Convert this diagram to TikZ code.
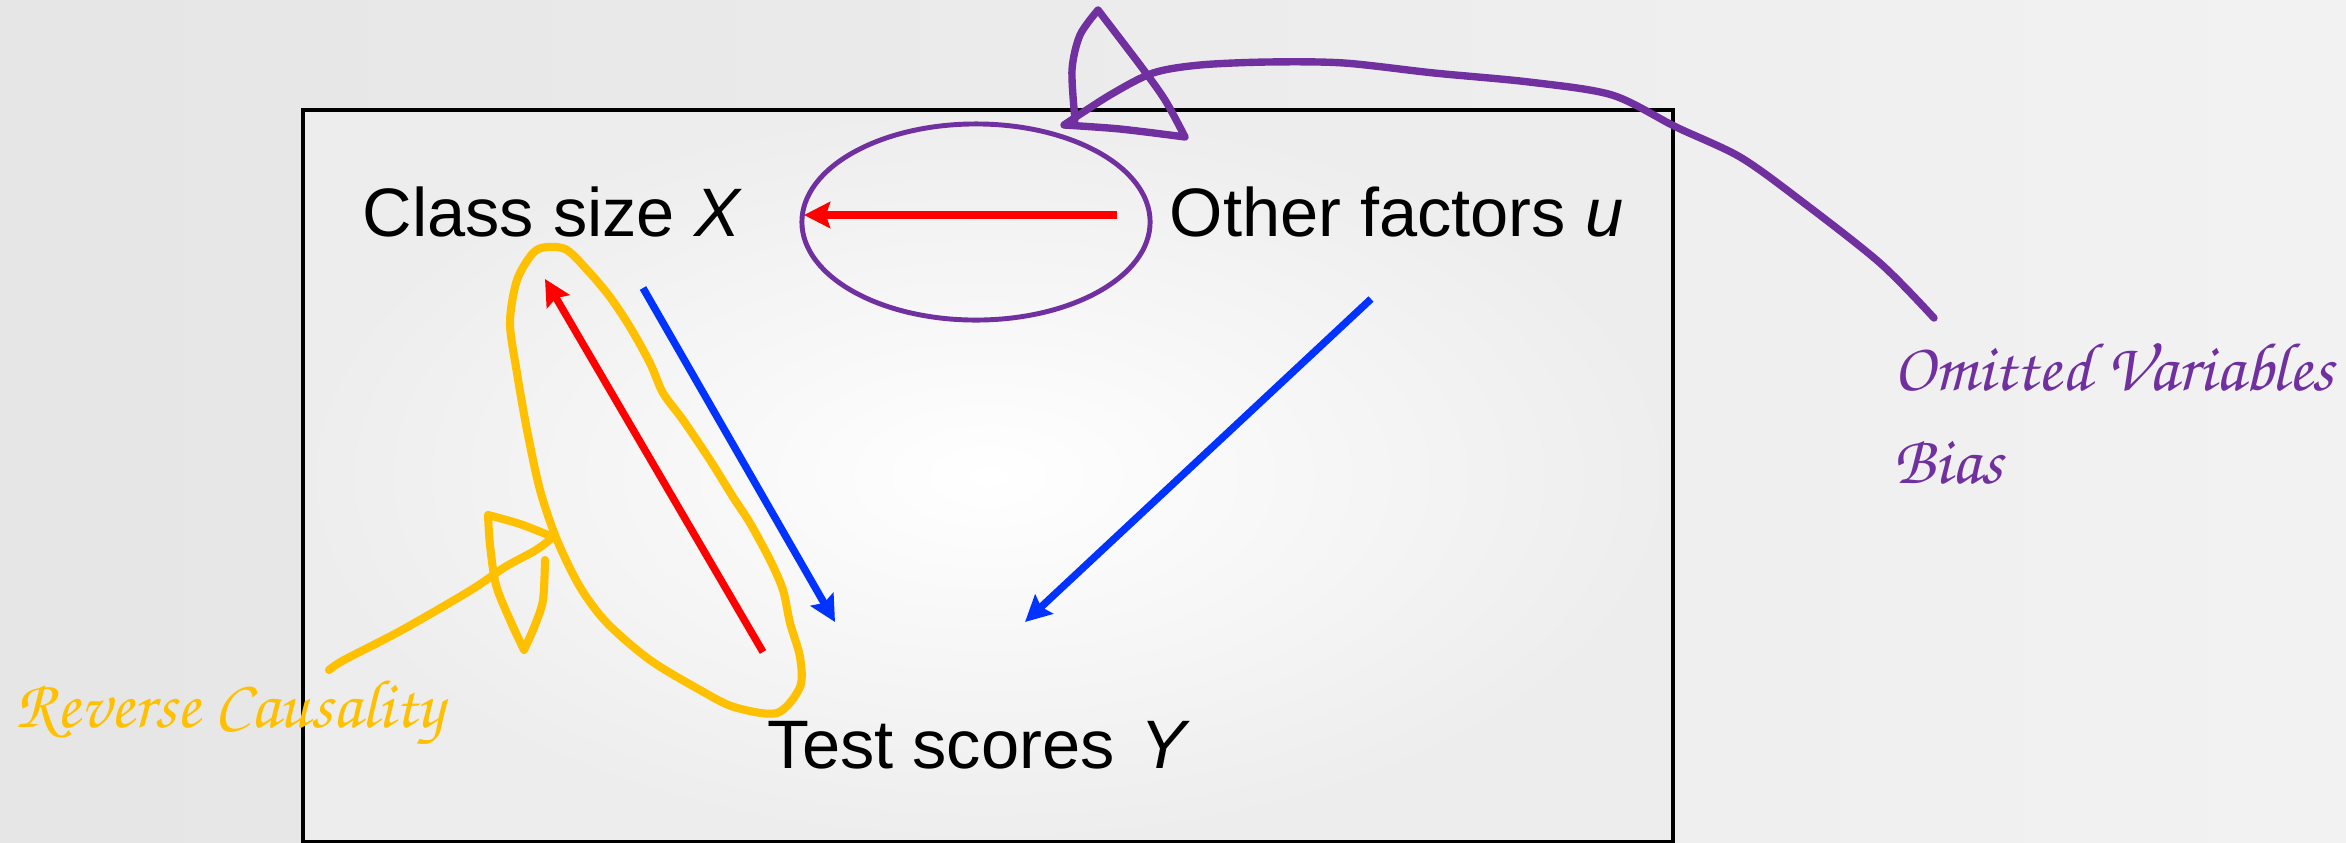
\documentclass[tikz,border=0pt]{standalone}
\usepackage{fontspec}
\setmainfont{Liberation Sans}
\usetikzlibrary{arrows.meta}
\definecolor{causered}{HTML}{FF0000}
\definecolor{causeblue}{HTML}{0033FF}
\definecolor{inkpurple}{HTML}{7030A0}
\definecolor{inkyellow}{HTML}{FFC000}
\definecolor{titlered}{HTML}{9C1C3C}
\newcommand\brushfont{\fontencoding{OT1}\fontfamily{pzc}\fontseries{mb}\fontshape{it}\fontsize{19.5}{25}\selectfont}

\begin{document}
\begin{tikzpicture}[x=0.01cm,y=-0.01cm,
  var/.style={inner sep=0pt,anchor=base west,font=\fontsize{19.5}{23}\selectfont},
  note/.style={inner sep=0pt,anchor=base west,align=left,font=\brushfont},
  cause/.style={-{Stealth[length=0.26cm,width=0.26cm,inset=0.04cm]},line width=2.1pt},
  ink/.style={line width=2.1pt,line cap=round,line join=round}
]
\useasboundingbox (0,0) rectangle (2346,842);
\fill[left color=black!10,right color=black!5] (0,0) rectangle (2346,842);
\begin{scope}
  \clip (0,0) rectangle (2346,842);
  \node[inner sep=0pt,anchor=base west,text=titlered,font=\fontsize{24}{28}\selectfont] (title) at (120,-1) {TEST SCORES};
  \shade[inner color=white,outer color=black!7] (303,110) rectangle (1673,842);
  \draw[line width=1.15pt] (303,110) rectangle (1673,842);
\end{scope}

\node[var] (classsize) at (362,236) {Class size \textit{X}};
\node[var] (factors) at (1169,236) {Other factors \textit{u}};
\node[var] (scores) at (767,768) {Test scores\hspace{0.1em} \textit{Y}};

\coordinate (u-left) at (1117,215);
\coordinate (x-right) at (804,215);
\coordinate (x-low) at (643,288);
\coordinate (y-topleft) at (835,622);
\coordinate (y-left) at (763,652);
\coordinate (x-tip) at (545,279);
\coordinate (u-low) at (1371,299);
\coordinate (y-topright) at (1025,622);

\draw[cause,causered] (u-left) -- (x-right);
\draw[cause,causeblue] (x-low) -- (y-topleft);
\draw[cause,causered] (y-left) -- (x-tip);
\draw[cause,causeblue] (u-low) -- (y-topright);

% omitted variables
\coordinate (ovb) at (976,222);
\draw[inkpurple,line width=1.4pt] (ovb) ellipse [x radius=1.74cm,y radius=0.98cm];
\draw[ink,inkpurple]
  plot[smooth] coordinates {(1934,318) (1880,263) (1800,200) (1740,157) (1676,127)
    (1612,95) (1529,82) (1434,73) (1344,63) (1268,62) (1200,65) (1153,73) (1110,95) (1064,125)}
  plot[smooth] coordinates {(1064,125) (1120,129) (1185,137)}
  plot[smooth] coordinates {(1185,137) (1165,100) (1140,65) (1098,10)}
  plot[smooth] coordinates {(1098,10) (1080,35) (1072,70) (1075,120)};
\node[note,text=inkpurple] (ovblabel) at (1893,483) {Omitted Variables\\[1.2pt]Bias};

% reverse causality
\draw[ink,inkyellow,line width=2.3pt]
  plot[smooth cycle] coordinates {(547,247) (567,250) (590,273) (610,297) (630,327)
    (650,363) (663,393) (683,420) (710,460) (733,497) (750,523) (770,560) (783,590)
    (790,623) (800,657) (800,687) (777,713) (734,707) (700,690) (650,660) (607,623)
    (580,587) (557,540) (540,490) (527,430) (517,373) (510,323) (517,280) (533,253)};
\draw[ink,inkyellow,line width=2.3pt]
  plot[smooth] coordinates {(329,670) (344,660) (402,630) (471,590) (505,567) (536,550) (553,537)}
  plot[smooth] coordinates {(553,537) (520,524) (488,515)}
  plot[smooth] coordinates {(488,515) (490,545) (496,585) (510,620) (524,650)}
  plot[smooth] coordinates {(524,650) (535,625) (543,600) (545,560)};
\node[note,text=inkyellow] (rclabel) at (15,727) {Reverse Causality};
\end{tikzpicture}
\end{document}
